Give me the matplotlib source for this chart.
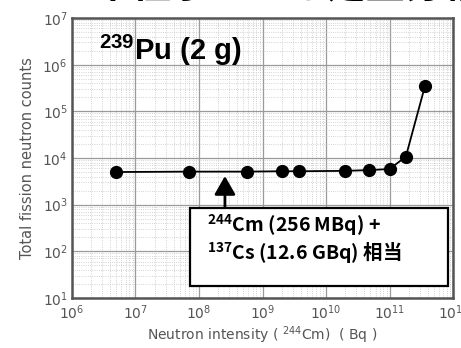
import numpy as np
import matplotlib
matplotlib.use("Agg")
import matplotlib.pyplot as plt
from matplotlib.ticker import LogLocator, FixedLocator
from matplotlib.patches import Rectangle

plt.rcParams['font.family'] = ['DejaVu Sans', 'Noto Sans CJK JP']
plt.rcParams['mathtext.default'] = 'regular'

# data
intensity = [5e6, 7e7, 5.6e8, 2.0e9, 3.8e9, 2.0e10, 4.8e10, 1.0e11, 1.8e11, 3.6e11]
counts = [5000, 5100, 5100, 5200, 5200, 5300, 5500, 5800, 10700, 350000]
xticks = [1e6, 1e7, 1e8, 1e9, 1e10, 1e11, 1e12]
yticks = [1e1, 1e2, 1e3, 1e4, 1e5, 1e6, 1e7]
arrow_x = 2.56e8

fig = plt.figure(figsize=(4.61, 3.48), dpi=100)
ax = fig.add_axes([0.156, 0.144, 0.827, 0.804])

ax.plot(intensity, counts, color='black', lw=1.3, marker='o', ms=8.5, zorder=3)
ax.set_xscale('log')
ax.set_yscale('log')
ax.set_xlim(1e6, 1e12)
ax.set_ylim(1e1, 1e7)

ax.xaxis.set_major_locator(FixedLocator(xticks))
ax.yaxis.set_major_locator(FixedLocator(yticks))
ax.xaxis.set_minor_locator(LogLocator(base=10, subs=np.arange(2, 10)))
ax.yaxis.set_minor_locator(LogLocator(base=10, subs=np.arange(2, 10)))
ax.set_xticklabels([f'$10^{{{int(np.log10(v))}}}$' for v in xticks])
ax.set_yticklabels([f'$10^{{{int(np.log10(v))}}}$' for v in yticks])

ax.grid(which='major', color='#9a9a9a', lw=0.9)
ax.grid(which='minor', color='#c4c4c4', lw=0.6, ls=':')
ax.tick_params(which='both', length=0, labelsize=10, colors='#555555')
ax.tick_params(axis='y', pad=3)
ax.tick_params(axis='x', pad=4)
for s in ax.spines.values():
    s.set_color('#555555')
    s.set_linewidth(1.8)

ax.set_ylabel('Total fission neutron counts', fontsize=10.5, color='#555555', labelpad=5)
ax.set_xlabel('Neutron intensity ( $^{244}$Cm)  ( Bq )', fontsize=10, color='#555555', labelpad=2)

ax.text(0.07, 0.885, '$^{239}$Pu (2 g)', transform=ax.transAxes, fontsize=21,
        fontweight='bold', family='Liberation Sans', color='black', va='center', ha='left')

ax.annotate('', xy=(arrow_x, 4100), xytext=(arrow_x, 850),
            arrowprops=dict(arrowstyle='-|>,head_width=0.4,head_length=0.7',
                            color='black', lw=2, mutation_scale=16,
                            shrinkA=0, shrinkB=0))

ax.add_patch(Rectangle((0.31, 0.043), 0.677, 0.278, transform=ax.transAxes,
                       fc='white', ec='black', lw=1.6, zorder=5))
cjk = ['Noto Sans CJK JP', 'DejaVu Sans']
ax.text(0.354, 0.262, '$^{244}$Cm (256 MBq) +', transform=ax.transAxes, fontsize=14,
        fontweight='bold', family=cjk, va='center', ha='left', zorder=6)
ax.text(0.354, 0.16, '$^{137}$Cs (12.6 GBq) 相当', transform=ax.transAxes, fontsize=14,
        fontweight='bold', family=cjk, va='center', ha='left', zorder=6)

# title of the slide, cut off at the top edge as in the source
fig.text(0.5, 1.04, 'パッシブ中性子による定量分析（', fontsize=28, fontweight='bold',
         family=cjk, ha='center', va='center')

fig.savefig('out.png', dpi=100)
